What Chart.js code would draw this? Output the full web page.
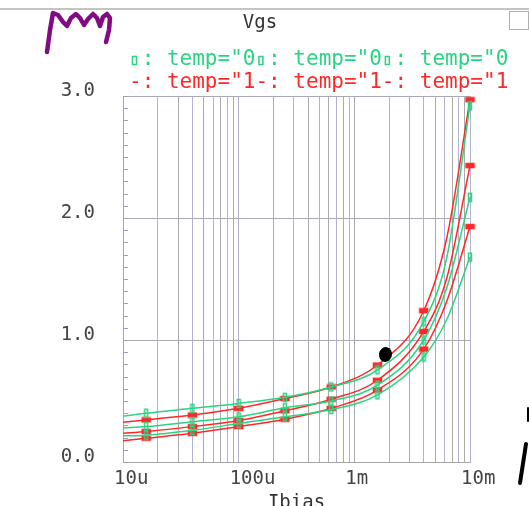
<!DOCTYPE html>
<html>
<head>
<meta charset="utf-8">
<script src="https://cdn.jsdelivr.net/npm/chart.js@4/dist/chart.umd.min.js"></script>
<style>
  html, body { margin: 0; padding: 0; background: #ffffff; }
  canvas { display: block; }
</style>
</head>
<body>
<canvas id="c" width="529" height="506"></canvas>
<script>
// ---------------- data ----------------
const ibias = [1e-5, 1.585e-5, 3.981e-5, 1e-4, 2.512e-4, 6.31e-4, 1.585e-3, 3.981e-3, 6.31e-3, 1e-2];
const markedPoints = [false, true, true, true, true, true, true, true, false, true];

const green1 = [0.375, 0.40, 0.44, 0.48, 0.53, 0.615, 0.755, 1.15, 1.68, 2.92];
const green2 = [0.28, 0.29, 0.33, 0.37, 0.445, 0.50, 0.63, 1.00, 1.43, 2.17];
const green3 = [0.215, 0.22, 0.26, 0.315, 0.37, 0.43, 0.55, 0.86, 1.17, 1.68];
const red1 = [0.325, 0.345, 0.385, 0.44, 0.52, 0.615, 0.795, 1.24, 1.84, 2.97];
const red2 = [0.235, 0.25, 0.29, 0.34, 0.42, 0.515, 0.67, 1.07, 1.51, 2.43];
const red3 = [0.175, 0.195, 0.235, 0.29, 0.35, 0.44, 0.59, 0.925, 1.32, 1.93];

const xTickValues = [1e-5, 1e-4, 1e-3, 1e-2];
const xTickLabels = ['10u', '100u', '1m', '10m'];
const yTickValues = [0, 1, 2, 3];
const yTickLabels = ['0.0', '1.0', '2.0', '3.0'];

const chartTitle = 'Vgs';
const xTitle = 'Ibias';
const legendGreen = 'temp="0';
const legendRed = 'temp="1';

// ---------------- styles ----------------
const GREEN = '#2bd482';
const RED = '#ff2828';
const FONT = '"DejaVu Sans Mono", "Liberation Mono", monospace';

function makeMarker(color, w, h, fill) {
  const c = document.createElement('canvas');
  c.width = w + 2; c.height = h + 2;
  const g = c.getContext('2d');
  g.lineWidth = 1.5;
  g.strokeStyle = color;
  g.fillStyle = color;
  if (fill) g.fillRect(1, 1, w, h);
  g.strokeRect(1.5, 1.5, w - 1, h - 1);
  return c;
}
const greenMarker = makeMarker(GREEN, 4, 9, false);
const redMarker = makeMarker(RED, 9, 5, true);

function series(values, color, marker) {
  return {
    data: ibias.map((x, i) => ({ x: x, y: values[i] })),
    borderColor: color,
    backgroundColor: color,
    borderWidth: 1.5,
    cubicInterpolationMode: 'monotone',
    pointStyle: marker,
    pointRadius: ctx => markedPoints[ctx.dataIndex] ? 4 : 0,
    pointHoverRadius: 0,
    clip: false
  };
}

// all log gridlines 1..9 x 10^n
function logTicks() {
  const t = [];
  for (let e = -5; e <= -3; e++) {
    for (let m = 1; m <= 9; m++) t.push({ value: m * Math.pow(10, e) });
  }
  t.push({ value: 1e-2 });
  return t;
}

const decorations = {
  id: 'decorations',
  afterDraw(chart) {
    const ctx = chart.ctx;
    const y = chart.scales.y;
    const area = chart.chartArea;
    ctx.save();

    // inward minor ticks on the left axis
    ctx.lineWidth = 1;
    for (let k = 0; k <= 30; k++) {
      const py = Math.round(y.getPixelForValue(k / 10)) + 0.5;
      ctx.strokeStyle = k % 2 ? '#9c9cc0' : '#a4a4a4';
      ctx.beginPath();
      ctx.moveTo(area.left, py);
      ctx.lineTo(area.left + 5, py);
      ctx.stroke();
    }

    // window frame bits
    ctx.strokeStyle = '#c4c4c4';
    ctx.lineWidth = 2;
    ctx.beginPath(); ctx.moveTo(0, 9); ctx.lineTo(529, 9); ctx.stroke();
    ctx.lineWidth = 1;
    ctx.strokeStyle = '#b0b0b0';
    ctx.strokeRect(509.5, 11.5, 19, 18);

    // title
    ctx.fillStyle = '#333333';
    ctx.font = '19px ' + FONT;
    ctx.textAlign = 'center';
    ctx.textBaseline = 'alphabetic';
    ctx.fillText(chartTitle, 260, 28);

    // x axis title (cut by the window bottom)
    ctx.fillText(xTitle, (area.left + area.right) / 2, 508);

    // legend rows
    ctx.font = '21px ' + FONT;
    ctx.textAlign = 'left';
    const cw = ctx.measureText('M').width;
    for (let i = 0; i < 3; i++) {
      const x0 = 129 + i * 10 * cw;
      ctx.fillStyle = GREEN;
      ctx.strokeStyle = GREEN;
      ctx.lineWidth = 1.5;
      ctx.strokeRect(x0 + 3.5, 56.5, 4, 8);
      ctx.fillText(': ' + legendGreen, x0 + cw, 65);
      ctx.fillStyle = RED;
      ctx.fillText('-: ' + legendRed, x0, 88);
    }

    // hand-drawn annotations
    ctx.lineCap = 'round';
    ctx.lineJoin = 'round';
    ctx.strokeStyle = '#820a82';
    ctx.lineWidth = 4.5;
    const pts = [[47,52],[50,30],[53,13],[58,15],[63,22],[67,26],[71,18],[76,14],[80,18],[84,25],[88,19],[93,14],[97,18],[100,26],[103,17],[107,14],[110,18],[109,30],[106,42]];
    ctx.beginPath();
    pts.forEach((p, i) => i ? ctx.lineTo(p[0], p[1]) : ctx.moveTo(p[0], p[1]));
    ctx.stroke();

    ctx.fillStyle = '#000000';
    ctx.beginPath();
    ctx.ellipse(385.5, 354.5, 6.5, 7.5, 0.2, 0, Math.PI * 2);
    ctx.fill();

    ctx.strokeStyle = '#000000';
    ctx.lineWidth = 4;
    ctx.beginPath(); ctx.moveTo(526, 444); ctx.lineTo(520, 483); ctx.stroke();
    ctx.lineWidth = 2;
    ctx.beginPath(); ctx.moveTo(528, 408); ctx.lineTo(528, 421); ctx.stroke();

    ctx.restore();
  }
};

Chart.defaults.font.family = FONT;

new Chart(document.getElementById('c'), {
  type: 'line',
  data: {
    datasets: [
      series(green1, GREEN, greenMarker),
      series(green2, GREEN, greenMarker),
      series(green3, GREEN, greenMarker),
      series(red1, RED, redMarker),
      series(red2, RED, redMarker),
      series(red3, RED, redMarker)
    ]
  },
  options: {
    responsive: false,
    animation: false,
    devicePixelRatio: 1,
    layout: { padding: { top: 96, right: 59, left: 0, bottom: 0 } },
    plugins: { legend: { display: false }, tooltip: { enabled: false }, title: { display: false } },
    scales: {
      x: {
        type: 'logarithmic',
        min: 1e-5,
        max: 1e-2,
        afterBuildTicks: s => { s.ticks = logTicks(); },
        afterFit: s => { s.height = 44; },
        grid: {
          drawTicks: false,
          color: c => (c.index % 2 ? '#b2b2d2' : '#ababab'),
          lineWidth: 1
        },
        border: { display: true, color: '#a8a8a8' },
        ticks: {
          autoSkip: false,
          maxRotation: 0,
          align: 'start',
          labelOffset: -9,
          padding: 6,
          color: '#444444',
          font: { size: 19 },
          callback: v => {
            const i = xTickValues.findIndex(t => Math.abs(Math.log10(t) - Math.log10(v)) < 1e-6);
            return i >= 0 ? xTickLabels[i] : '';
          }
        }
      },
      y: {
        min: 0,
        max: 3,
        afterBuildTicks: s => { s.ticks = yTickValues.map(v => ({ value: v })); },
        afterFit: s => { s.width = 123; },
        grid: { drawTicks: false, color: '#a9a9b9', lineWidth: 1 },
        border: { display: true, color: '#a8a8a8' },
        ticks: {
          padding: 28,
          labelOffset: -5,
          color: '#444444',
          font: { size: 19 },
          callback: v => {
            const i = yTickValues.indexOf(Math.round(v));
            return i >= 0 ? yTickLabels[i] : '';
          }
        }
      }
    }
  },
  plugins: [decorations]
});
</script>
</body>
</html>
